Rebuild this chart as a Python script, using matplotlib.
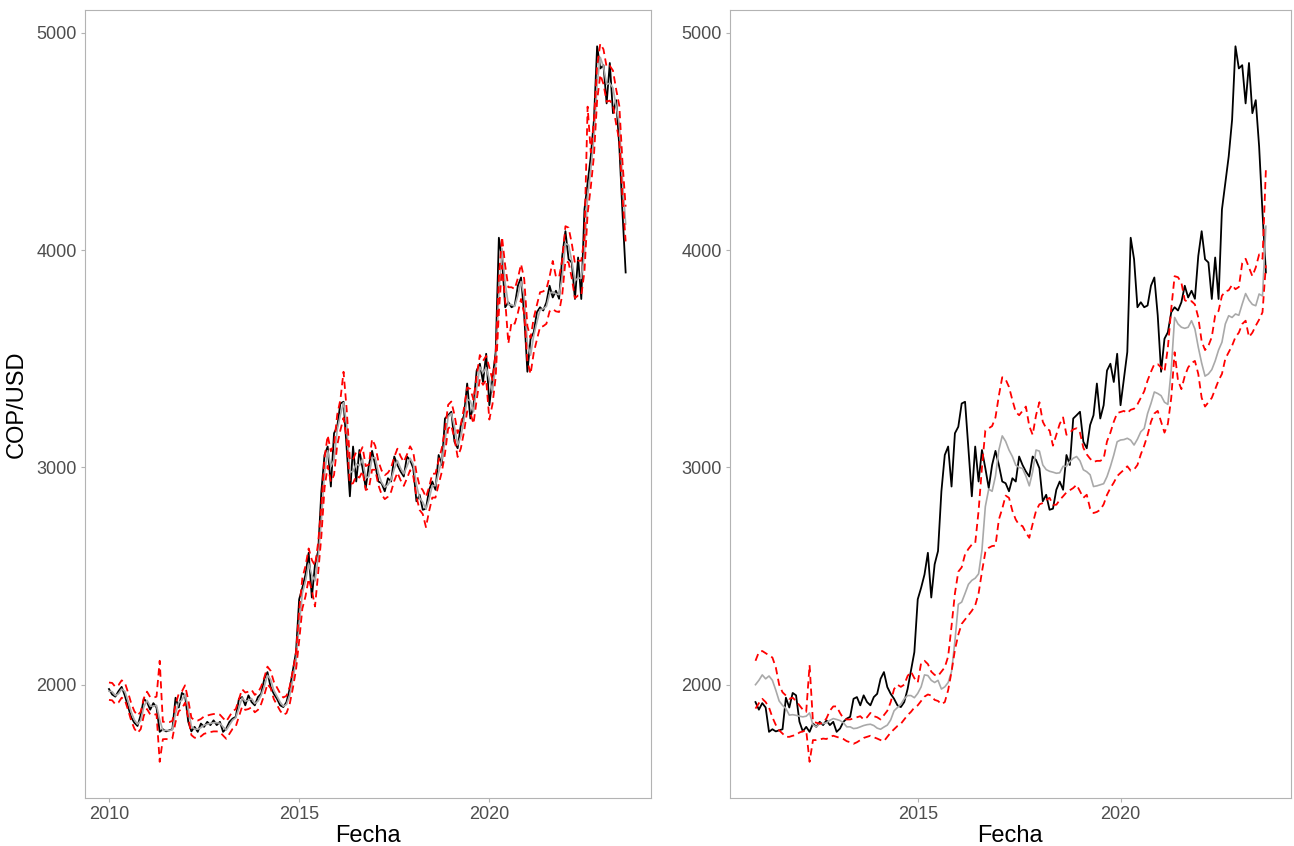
import numpy as np
import matplotlib
matplotlib.use("Agg")
import matplotlib.pyplot as plt

plt.rcParams['font.family'] = ['Liberation Sans', 'DejaVu Sans']

# tasa observada COP/USD, mensual desde ene-2010
cop_usd = [
    1980, 1955, 1945, 1970, 1990, 1950, 1900, 1850, 1825, 1810, 1860, 1935,
    1920, 1885, 1915, 1895, 1783, 1795, 1785, 1790, 1795, 1940, 1895, 1962,
    1951, 1830, 1785, 1806, 1783, 1821, 1806, 1829, 1814, 1836, 1814, 1829,
    1783, 1798, 1829, 1844, 1852, 1935, 1943, 1905, 1951, 1920, 1905, 1943,
    1958, 2027, 2058, 1989, 1958, 1935, 1905, 1897, 1920, 1980, 2065, 2150,
    2393, 2446, 2507, 2607, 2401, 2554, 2615, 2890, 3057, 3096, 2912, 3157,
    3187, 3294, 3302, 3088, 2867, 3096, 2935, 3080, 2996, 2905, 3011, 3076,
    3011, 2935, 2927, 2890, 2950, 2935, 3050, 3011, 2981, 2958, 3050, 3034,
    2996, 2844, 2874, 2805, 2810, 2897, 2935, 2897, 3057, 3011, 3225, 3240,
    3256, 3118, 3088, 3195, 3240, 3386, 3225, 3286, 3446, 3477, 3393, 3523,
    3286, 3408, 3531, 4057, 3958, 3737, 3760, 3737, 3745, 3836, 3874, 3700,
    3440, 3592, 3622, 3714, 3737, 3722, 3760, 3836, 3782, 3813, 3776, 3973,
    4087, 3958, 3943, 3775, 3966, 3775, 4187, 4309, 4431, 4599, 4938, 4836,
    4851, 4675, 4861, 4630, 4690, 4477, 4172, 3897,
]

# panel izquierdo: ajuste dentro de muestra y bandas
ajuste = [
    1970, 1968, 1950, 1958, 1980, 1970, 1925, 1875, 1838, 1818, 1835, 1898,
    1928, 1903, 1900, 1905, 1839, 1789, 1790, 1788, 1793, 1868, 1918, 1929,
    1957, 1890, 1808, 1796, 1795, 1802, 1814, 1818, 1822, 1825, 1825, 1822,
    1806, 1791, 1814, 1837, 1848, 1894, 1939, 1924, 1928, 1936, 1913, 1924,
    1951, 1993, 2043, 2024, 1974, 1947, 1920, 1901, 1909, 1950, 2023, 2108,
    2272, 2420, 2477, 2557, 2504, 2478, 2585, 2753, 2974, 3077, 3004, 3035,
    3172, 3241, 3298, 3195, 2978, 2982, 3016, 3008, 3038, 2951, 2958, 3044,
    3044, 2973, 2931, 2909, 2920, 2943, 2993, 3031, 2996, 2970, 3004, 3042,
    3015, 2920, 2859, 2840, 2808, 2854, 2916, 2916, 2977, 3034, 3118, 3233,
    3248, 3187, 3103, 3142, 3218, 3313, 3306, 3256, 3366, 3462, 3435, 3458,
    3405, 3347, 3470, 3794, 4008, 3848, 3749, 3749, 3741, 3791, 3855, 3787,
    3570, 3516, 3607, 3668, 3726, 3730, 3741, 3798, 3809, 3798, 3795, 3875,
    4030, 4023, 3951, 3859, 3871, 3871, 3981, 4248, 4370, 4515, 4769, 4887,
    4844, 4763, 4768, 4746, 4660, 4584, 4325, 4120,
]
ajuste_sup = [
    2010, 2008, 1990, 1998, 2020, 2010, 1965, 1915, 1878, 1858, 1875, 1938,
    1968, 1943, 1940, 1945, 2110, 1829, 1830, 1828, 1833, 1908, 1958, 1969,
    1997, 1930, 1848, 1836, 1835, 1842, 1854, 1858, 1862, 1865, 1865, 1862,
    1846, 1831, 1854, 1877, 1888, 1934, 1979, 1964, 1968, 1976, 1953, 1964,
    1991, 2033, 2083, 2064, 2014, 1987, 1960, 1941, 1949, 1990, 2063, 2148,
    2342, 2490, 2547, 2627, 2574, 2548, 2655, 2823, 3044, 3147, 3074, 3105,
    3242, 3311, 3440, 3265, 3033, 3037, 3071, 3063, 3093, 3006, 3013, 3130,
    3099, 3028, 2986, 2964, 2975, 2998, 3048, 3086, 3051, 3025, 3059, 3097,
    3070, 2975, 2914, 2895, 2863, 2909, 2971, 2971, 3032, 3089, 3173, 3288,
    3303, 3242, 3158, 3197, 3273, 3368, 3361, 3311, 3421, 3517, 3490, 3513,
    3460, 3402, 3525, 3874, 4060, 3928, 3829, 3829, 3821, 3871, 3935, 3867,
    3650, 3596, 3687, 3748, 3806, 3810, 3821, 3878, 3950, 3878, 3875, 3955,
    4110, 4103, 4031, 3939, 3951, 3951, 4061, 4660, 4450, 4595, 4849, 4950,
    4924, 4843, 4848, 4826, 4740, 4664, 4405, 4200,
]
ajuste_inf = [
    1930, 1928, 1910, 1918, 1940, 1930, 1885, 1835, 1798, 1778, 1795, 1858,
    1888, 1863, 1860, 1865, 1645, 1749, 1750, 1748, 1753, 1828, 1878, 1889,
    1917, 1850, 1768, 1756, 1755, 1762, 1774, 1778, 1782, 1785, 1785, 1782,
    1766, 1751, 1774, 1797, 1808, 1854, 1899, 1884, 1888, 1896, 1873, 1884,
    1911, 1953, 2003, 1984, 1934, 1907, 1880, 1861, 1869, 1910, 1983, 2068,
    2202, 2350, 2407, 2487, 2434, 2360, 2515, 2683, 2904, 3007, 2934, 2965,
    3102, 3171, 3228, 3125, 2923, 2927, 2961, 2953, 2983, 2896, 2903, 2989,
    2989, 2918, 2876, 2854, 2865, 2888, 2938, 2976, 2941, 2915, 2949, 2987,
    2960, 2865, 2804, 2785, 2725, 2799, 2861, 2861, 2922, 2979, 3063, 3178,
    3193, 3132, 3048, 3087, 3163, 3258, 3251, 3201, 3311, 3407, 3380, 3403,
    3220, 3292, 3415, 3714, 3928, 3768, 3570, 3669, 3661, 3711, 3775, 3707,
    3490, 3430, 3527, 3588, 3646, 3650, 3661, 3718, 3729, 3718, 3715, 3795,
    3950, 3943, 3871, 3779, 3791, 3791, 3901, 4168, 4290, 4435, 4689, 4807,
    4764, 4683, 4688, 4666, 4580, 4504, 4245, 4040,
]

# panel derecho: pronostico desde ene-2011 y bandas
pronostico = [
    2000, 2020, 2045, 2027, 2040, 2020, 1975, 1925, 1905, 1890, 1860, 1862,
    1859, 1855, 1852, 1855, 1870, 1815, 1806, 1821, 1821, 1825, 1836, 1844,
    1840, 1835, 1825, 1806, 1806, 1798, 1800, 1806, 1812, 1816, 1818, 1812,
    1800, 1795, 1805, 1814, 1838, 1880, 1895, 1910, 1935, 1950, 1950, 1940,
    1960, 1990, 2045, 2042, 2020, 2010, 2020, 1980, 1990, 2010, 2060, 2200,
    2370, 2380, 2420, 2462, 2480, 2490, 2510, 2620, 2820, 2900, 2890, 2960,
    3080, 3145, 3120, 3080, 3050, 3010, 3000, 2995, 2960, 2915, 2980, 3080,
    3075, 3011, 2990, 2982, 2978, 2973, 2975, 3005, 3005, 3027, 3042, 3050,
    3030, 2989, 2980, 2966, 2912, 2915, 2920, 2925, 2958, 3004, 3057, 3118,
    3126, 3128, 3134, 3125, 3103, 3130, 3164, 3179, 3248, 3294, 3347, 3340,
    3330, 3300, 3290, 3450, 3690, 3660, 3645, 3640, 3645, 3675, 3637, 3553,
    3480, 3420, 3430, 3450, 3490, 3540, 3576, 3660, 3698, 3690, 3706, 3700,
    3752, 3800, 3770, 3750, 3744, 3798, 3789, 4110,
]
pron_sup = [
    2110, 2150, 2155, 2145, 2135, 2125, 2080, 2000, 1965, 1950, 1935, 1940,
    1925, 1905, 1885, 1875, 2090, 1830, 1825, 1820, 1825, 1845, 1880, 1900,
    1900, 1870, 1845, 1840, 1840, 1845, 1850, 1855, 1840, 1850, 1870, 1855,
    1850, 1840, 1860, 1880, 1920, 1980, 2000, 1990, 2000, 2040, 2060, 2030,
    2010, 2100, 2110, 2095, 2060, 2045, 2040, 2060, 2080, 2130, 2270, 2420,
    2520, 2540, 2600, 2625, 2645, 2650, 2800, 3000, 3170, 3180, 3190, 3230,
    3330, 3415, 3405, 3370, 3310, 3255, 3240, 3260, 3280, 3190, 3150, 3240,
    3300, 3210, 3180, 3170, 3100, 3150, 3200, 3230, 3150, 3160, 3175, 3180,
    3160, 3090, 3060, 3040, 3025, 3030, 3030, 3040, 3120, 3160, 3210, 3250,
    3255, 3260, 3250, 3265, 3270, 3290, 3320, 3350, 3400, 3440, 3475, 3475,
    3460, 3440, 3550, 3730, 3880, 3875, 3850, 3770, 3760, 3765, 3750, 3690,
    3580, 3540, 3560, 3600, 3700, 3720, 3790, 3810, 3815, 3840, 3820, 3830,
    3940, 3960, 3920, 3880, 3920, 3980, 3960, 4370,
]
pron_inf = [
    1890, 1915, 1935, 1920, 1895, 1850, 1815, 1790, 1775, 1760, 1760, 1765,
    1768, 1780, 1785, 1790, 1645, 1745, 1745, 1748, 1752, 1750, 1760, 1765,
    1760, 1755, 1750, 1740, 1735, 1728, 1735, 1745, 1755, 1760, 1765, 1758,
    1752, 1745, 1740, 1760, 1780, 1795, 1810, 1820, 1840, 1860, 1875, 1895,
    1905, 1925, 1945, 1955, 1950, 1930, 1925, 1910, 1920, 1975, 2060, 2160,
    2230, 2280, 2300, 2320, 2340, 2365, 2420, 2520, 2610, 2630, 2638, 2640,
    2760, 2810, 2870, 2860, 2800, 2760, 2735, 2730, 2700, 2676, 2740, 2800,
    2830, 2836, 2850, 2860, 2828, 2828, 2850, 2867, 2885, 2895, 2905, 2920,
    2890, 2860, 2874, 2810, 2790, 2795, 2805, 2830, 2874, 2905, 2930, 2960,
    2975, 2989, 3005, 2985, 2990, 3011, 3060, 3100, 3149, 3210, 3248, 3260,
    3210, 3160, 3200, 3320, 3530, 3400, 3360, 3420, 3460, 3480, 3490, 3430,
    3320, 3280, 3300, 3320, 3360, 3400, 3430, 3500, 3530, 3560, 3600, 3620,
    3660, 3675, 3600, 3620, 3652, 3680, 3714, 3930,
]

fecha = 2010 + np.arange(len(cop_usd)) / 12
fecha_pron = 2011 + np.arange(len(pronostico)) / 12
obs_pron = cop_usd[12:]

fig = plt.figure(figsize=(12.94, 8.46), dpi=100)
ax1 = fig.add_axes([0.0657, 0.0566, 0.4374, 0.9316])
ax2 = fig.add_axes([0.5641, 0.0566, 0.4335, 0.9316])

rojo = dict(color='red', lw=1.3, ls=(0, (4, 2.5)))

ax1.plot(fecha, cop_usd, color='black', lw=1.3)
ax1.plot(fecha, ajuste, color='darkgrey', lw=1.2)
ax1.plot(fecha, ajuste_sup, **rojo)
ax1.plot(fecha, ajuste_inf, **rojo)

ax2.plot(fecha_pron, obs_pron, color='black', lw=1.3)
ax2.plot(fecha_pron, pronostico, color='darkgrey', lw=1.2)
ax2.plot(fecha_pron, pron_sup, **rojo)
ax2.plot(fecha_pron, pron_inf, **rojo)

for ax in (ax1, ax2):
    ax.set_xticks([2010, 2015, 2020])
    ax.set_yticks([2000, 3000, 4000, 5000])
    ax.set_ylim(1478, 5105)
    ax.set_xlabel('Fecha', fontsize=17, labelpad=1)
    ax.tick_params(colors='#B3B3B3', labelcolor='#4D4D4D', labelsize=13,
                   length=3, width=0.8, pad=3)
    for s in ax.spines.values():
        s.set_color('#B3B3B3')
        s.set_linewidth(0.8)

# limites despues de los ticks para que 2010 quede fuera del panel derecho
ax1.set_xlim(2009.37, 2024.25)
ax2.set_xlim(2010.37, 2024.2)

ax1.set_ylabel('COP/USD', fontsize=17, labelpad=6)

fig.savefig('out.png', dpi=100)
